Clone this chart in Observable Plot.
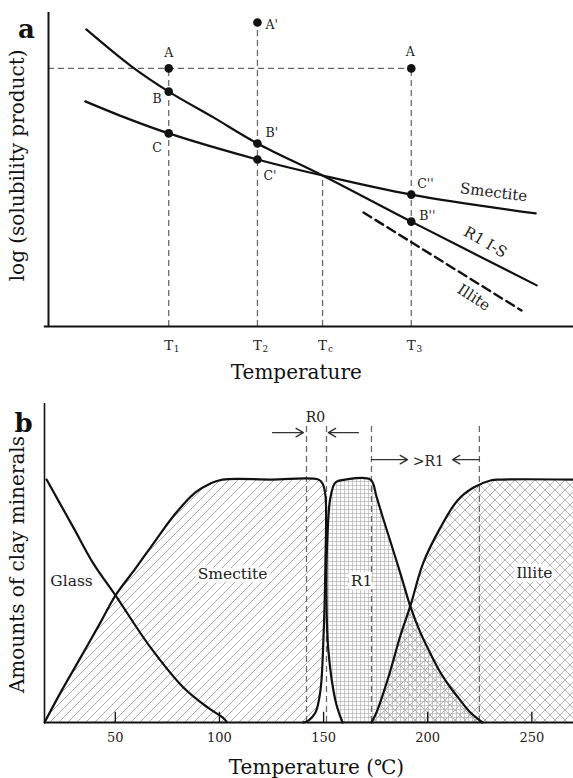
<!DOCTYPE html>
<html><head><meta charset="utf-8">
<script src="https://cdn.jsdelivr.net/npm/d3@7"></script>
<script src="https://cdn.jsdelivr.net/npm/@observablehq/plot@0.6"></script>
<style>
body{margin:0;background:#fff;}
#wrap{position:relative;width:573px;height:778px;background:#fff;}
#pa{position:absolute;left:0;top:0;}
#pb{position:absolute;left:0;top:385px;}
</style></head><body><div id="wrap"><div id="pa"></div><div id="pb"></div></div>
<script>
// ================= Panel a data =================
const aTickPos = [2.29, 3.98, 5.22, 6.91];
const aTickSub = ["1", "2", "c", "3"];
const aGuideTop = [8.22, 9.68, 4.81, 8.22];
const aRefLevel = 8.22;

const r1isX = [0.72, 1.56, 2.29, 3.14, 3.98, 5.22, 6.91, 9.30];
const r1isY = [9.46, 8.31, 7.48, 6.66, 5.83, 4.81, 3.34, 1.31];
const smecAX = [0.70, 1.51, 2.29, 3.98, 5.22, 6.91, 9.28];
const smecAY = [7.17, 6.62, 6.15, 5.32, 4.81, 4.20, 3.60];
const illAX = [6.00, 9.01];
const illAY = [3.63, 0.51];

const ptName = ["A", "A'", "A", "B", "B'", "B''", "C", "C'", "C''"];
const ptX = [2.29, 3.98, 6.91, 2.29, 3.98, 6.91, 2.29, 3.98, 6.91];
const ptY = [8.22, 9.68, 8.22, 7.48, 5.83, 3.34, 6.15, 5.32, 4.20];

const curveLabelA = ["Smectite", "R1 I-S", "Illite"];
const curveLabelAX = [8.48, 8.32, 8.10];
const curveLabelAY = [4.27, 2.68, 0.92];

// ================= Panel b data =================
const bTicks = [50, 100, 150, 200, 250];
const glassT = [17.0, 29.9, 39.5, 50.1, 66.9, 82.7, 94.3, 101.5, 103.4];
const glassV = [1.0, 0.802, 0.654, 0.523, 0.309, 0.144, 0.062, 0.021, 0.004];
const smecT = [16.0, 23.7, 33.3, 42.9, 50.1, 59.7, 69.3, 78.9, 88.5, 95.7, 101.5, 125.0, 147.5, 149.5, 150.9, 150.9, 149.9, 148.5, 146.1, 142.7, 140.3];
const smecV = [0, 0.123, 0.267, 0.412, 0.523, 0.634, 0.749, 0.860, 0.947, 0.984, 1.0, 1.0, 1.0, 0.984, 0.934, 0.667, 0.337, 0.132, 0.041, 0.008, 0];
const r1T = [159.1, 155.7, 152.3, 151.4, 151.9, 153.3, 155.7, 160.5, 172.5, 175.4, 178.3, 182.1, 186.9, 191.7, 196.5, 201.3, 206.1, 210.9, 215.7, 220.5, 226.3];
const r1V = [0, 0.09, 0.296, 0.502, 0.778, 0.926, 0.988, 1.0, 1.0, 0.930, 0.848, 0.745, 0.613, 0.477, 0.370, 0.284, 0.206, 0.144, 0.091, 0.041, 0];
const illT = [173.0, 175.4, 178.3, 182.1, 186.9, 191.7, 197.9, 206.1, 214.3, 222.0, 230.1, 234.9, 270];
const illV = [0, 0.041, 0.111, 0.214, 0.358, 0.481, 0.658, 0.802, 0.914, 0.967, 0.996, 1.0, 1.0];

const zoneT = [141.8, 151.4, 173.0, 224.8];
const zoneTop = 1.218;
const zoneLabel = ["R0", ">R1"];
const zoneLabelT = [146.1, 200.3];
const zoneLabelV = [1.255, 1.074];
const arrowX1 = [125.5, 166.7, 173.0, 224.8];
const arrowX2 = [140.3, 152.3, 190.3, 211.9];
const arrowV = [1.193, 1.193, 1.082, 1.082];

const mineralLabel = ["Glass", "Smectite", "R1", "Illite"];
const mineralT = [29.0, 106.3, 168.2, 251.2];
const mineralV = [0.584, 0.613, 0.584, 0.617];

// ================= helpers =================
const FONT = '"DejaVu Serif", "Liberation Serif", serif';
const zip = (xs, ys) => xs.map((x, i) => ({x, y: ys[i]}));
const guide = {stroke: "#6a6a6a", strokeWidth: 1.3, strokeDasharray: "6,4"};

// ================= Panel a =================
const aPts = ptName.map((n, i) => ({n, x: ptX[i], y: ptY[i]}));
const aLabelStyle = [
  {dx: 0, dy: -15, textAnchor: "middle"},
  {dx: 8, dy: 2, textAnchor: "start"},
  {dx: -1, dy: -16, textAnchor: "middle"},
  {dx: -7, dy: 7, textAnchor: "end"},
  {dx: 8, dy: -10, textAnchor: "start"},
  {dx: 8, dy: -6, textAnchor: "start"},
  {dx: -7, dy: 15, textAnchor: "end"},
  {dx: 6, dy: 17, textAnchor: "start"},
  {dx: 6, dy: -11, textAnchor: "start"}
];
const aRot = [7, 30, 33];

const svgA = Plot.plot({
  width: 573, height: 385,
  marginLeft: 48, marginRight: 0, marginTop: 12, marginBottom: 59,
  x: {domain: [0, 10], axis: null},
  y: {domain: [0, 10], axis: null},
  style: {fontFamily: FONT, background: "transparent", overflow: "visible", color: "#111"},
  marks: [
    Plot.ruleX(aTickPos, {x: d => d, y1: 0, y2: (d, i) => aGuideTop[i], ...guide}),
    Plot.ruleY([aRefLevel], {y: d => d, x1: 0, x2: aTickPos[3], ...guide}),
    Plot.line(zip(r1isX, r1isY), {x: "x", y: "y", curve: "catmull-rom", stroke: "#111", strokeWidth: 2.2}),
    Plot.line(zip(smecAX, smecAY), {x: "x", y: "y", curve: "catmull-rom", stroke: "#111", strokeWidth: 2.2}),
    Plot.line(zip(illAX, illAY), {x: "x", y: "y", stroke: "#111", strokeWidth: 2.4, strokeDasharray: "9,5"}),
    Plot.dot(aPts, {x: "x", y: "y", r: 4.3, fill: "#111", stroke: "none"}),
    ...aPts.map((p, i) => Plot.text([p], {x: "x", y: "y", text: "n", fontSize: 12.5, fill: "#222", ...aLabelStyle[i]})),
    ...curveLabelA.map((t, i) => Plot.text([t], {x: () => curveLabelAX[i], y: () => curveLabelAY[i], text: d => d, rotate: aRot[i], fontSize: 15, fill: "#222"})),
    Plot.ruleX([0], {y1: 0, y2: 10, stroke: "#111", strokeWidth: 2}),
    Plot.ruleY([0], {x1: -0.08, x2: 10, stroke: "#111", strokeWidth: 2}),
    Plot.text(aTickPos, {x: d => d, y: 0, text: () => "T", dy: 19, fontSize: 13.5, fill: "#222"}),
    Plot.text(aTickPos, {x: d => d, y: 0, text: (d, i) => aTickSub[i], dx: 8, dy: 23, fontSize: 9, fill: "#222"}),
    Plot.text(["Temperature"], {x: () => 4.72, y: () => 0, text: d => d, dy: 46, fontSize: 20, fill: "#111"}),
    Plot.text(["log (solubility product)"], {frameAnchor: "left", y: () => 5.13, text: d => d, dx: -31, rotate: -90, textAnchor: "middle", fontSize: 20, fill: "#111"}),
    Plot.text(["a"], {frameAnchor: "top-left", text: d => d, dx: -22, dy: 7, textAnchor: "middle", fontSize: 26, fontWeight: "bold", fill: "#111"})
  ]
});
document.getElementById("pa").appendChild(svgA);

// ================= Panel b =================
const svgB = Plot.plot({
  width: 573, height: 393,
  marginLeft: 44, marginRight: 0, marginTop: 18, marginBottom: 56,
  x: {domain: [16, 270], axis: null},
  y: {domain: [0, 1.313], axis: null},
  style: {fontFamily: FONT, background: "transparent", overflow: "visible", color: "#111"},
  marks: [
    Plot.areaY(zip(smecT, smecV), {x: "x", y1: 0, y2: "y", curve: "catmull-rom", fill: "url(#hatchS)"}),
    Plot.areaY(zip(illT, illV), {x: "x", y1: 0, y2: "y", curve: "catmull-rom", fill: "url(#hatchI)"}),
    Plot.areaY(zip(r1T, r1V), {x: "x", y1: 0, y2: "y", curve: "catmull-rom", fill: "url(#hatchR)"}),
    Plot.ruleX(zoneT, {x: d => d, y1: 0, y2: zoneTop, ...guide}),
    Plot.line(zip(glassT, glassV), {x: "x", y: "y", curve: "catmull-rom", stroke: "#111", strokeWidth: 2.2}),
    Plot.line(zip(smecT, smecV), {x: "x", y: "y", curve: "catmull-rom", stroke: "#111", strokeWidth: 2.2}),
    Plot.line(zip(r1T, r1V), {x: "x", y: "y", curve: "catmull-rom", stroke: "#111", strokeWidth: 2.2}),
    Plot.line(zip(illT, illV), {x: "x", y: "y", curve: "catmull-rom", stroke: "#111", strokeWidth: 2.2}),
    Plot.arrow(arrowX1.map((x1, i) => ({x1, x2: arrowX2[i], y: arrowV[i]})),
      {x1: "x1", x2: "x2", y1: "y", y2: "y", stroke: "#333", strokeWidth: 1.4, headLength: 9}),
    Plot.text(zoneLabel, {x: (d, i) => zoneLabelT[i], y: (d, i) => zoneLabelV[i], text: d => d, fontSize: 14, fill: "#222"}),
    Plot.text(mineralLabel, {x: (d, i) => mineralT[i], y: (d, i) => mineralV[i], text: d => d,
      fontSize: 15.5, fill: "#222", stroke: (d, i) => i === 0 ? "none" : "white", strokeWidth: 7}),
    Plot.ruleX([16], {y1: 0, y2: 1.313, stroke: "#111", strokeWidth: 1.6}),
    Plot.ruleY([0], {x1: 16, x2: 270, stroke: "#111", strokeWidth: 2}),
    Plot.ruleX(bTicks, {x: d => d, y1: 0, y2: 0.042, stroke: "#111", strokeWidth: 1.3}),
    Plot.text(bTicks, {x: d => d, y: 0, text: d => String(d), dy: 15, fontSize: 13, fill: "#222"}),
    Plot.text(["Temperature (℃)"], {x: () => 146.6, y: () => 0, text: d => d, dy: 45, fontSize: 20, fill: "#111"}),
    Plot.text(["Amounts of clay minerals"], {frameAnchor: "left", y: () => 0.65, text: d => d, dx: -27, rotate: -90, textAnchor: "middle", fontSize: 20, fill: "#111"}),
    Plot.text(["b"], {frameAnchor: "top-left", text: d => d, dx: -21, dy: 10, textAnchor: "middle", fontSize: 26, fontWeight: "bold", fill: "#111"})
  ]
});
svgB.insertAdjacentHTML("afterbegin", `<defs>
<pattern id="hatchS" patternUnits="userSpaceOnUse" width="9" height="9">
  <path d="M-1,1 L1,-1 M0,9 L9,0 M8,10 L10,8" stroke="#a3a3a3" stroke-width="0.9" fill="none"/>
</pattern>
<pattern id="hatchR" patternUnits="userSpaceOnUse" width="4" height="4">
  <path d="M0,0.5 H4 M0.5,0 V4" stroke="#b3b3b3" stroke-width="0.7" fill="none"/>
</pattern>
<pattern id="hatchI" patternUnits="userSpaceOnUse" width="10" height="10">
  <path d="M-1,-1 L11,11 M11,-1 L-1,11" stroke="#a3a3a3" stroke-width="0.8" fill="none"/>
</pattern>
</defs>`);
document.getElementById("pb").appendChild(svgB);
</script>
</body></html>
